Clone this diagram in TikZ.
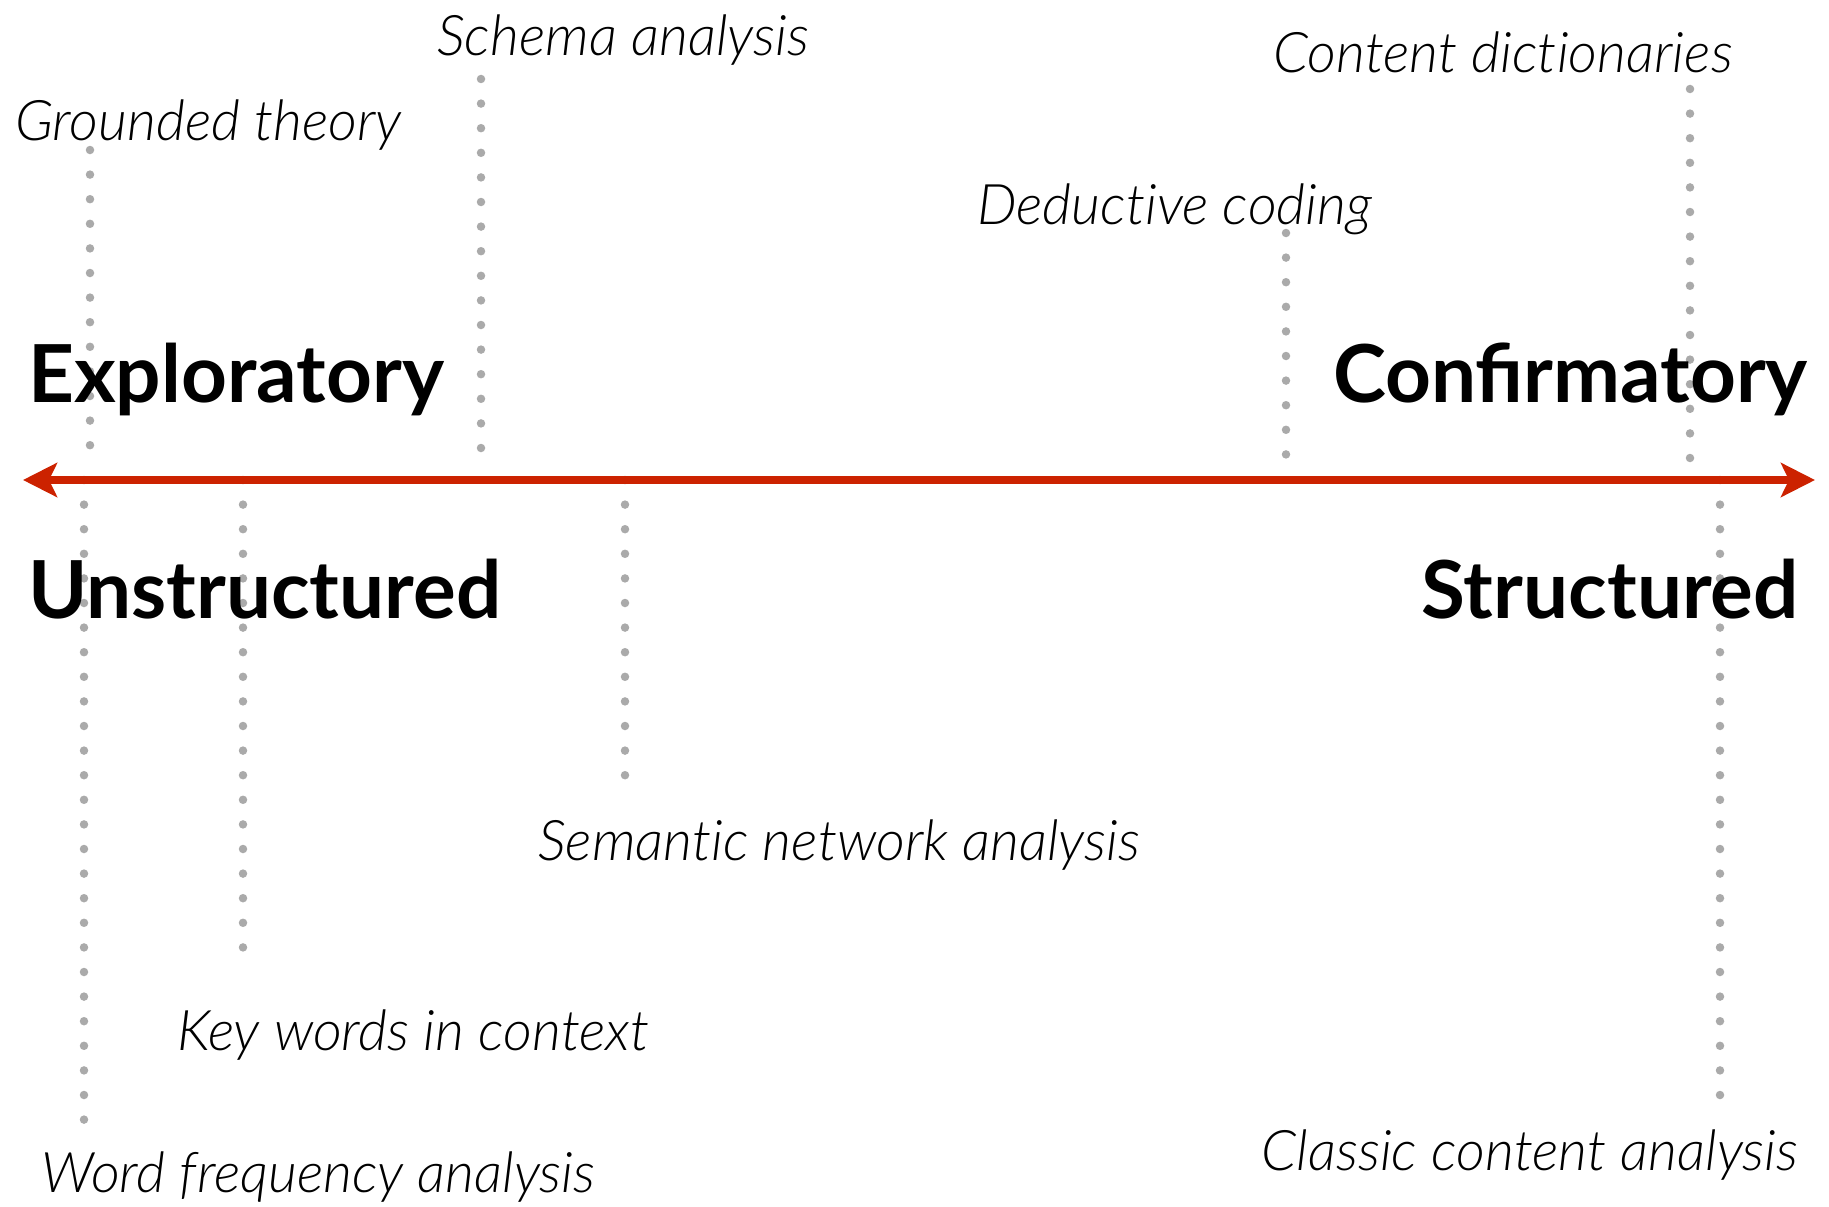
\documentclass[tikz,border=0pt]{standalone}
\usepackage{fontspec}
\setmainfont{Lato}
\newfontfamily\lightfont{Lato Light}[ItalicFont={Lato Light Italic},Ligatures={NoCommon,NoRare}]
\usetikzlibrary{arrows.meta}
\definecolor{axisred}{RGB}{204,34,0}
\definecolor{dotgray}{RGB}{170,170,170}
\tikzset{
  method/.style={anchor=base west, inner sep=0pt, font=\lightfont\itshape\fontsize{56}{60}\selectfont},
  pole/.style={anchor=base west, inner sep=0pt, font=\bfseries\fontsize{80}{84}\selectfont},
  dropline/.style={draw=dotgray, line width=8.5pt, line cap=round, dash pattern=on 0pt off 24.6pt},
  axis/.style={draw=axisred, line width=8pt, {Stealth[length=34pt,width=34pt,inset=8pt]}-{Stealth[length=34pt,width=34pt,inset=8pt]}}
}
\begin{document}
\begin{tikzpicture}[x=1pt,y=-1pt]
\useasboundingbox (0,0) rectangle (1829,1207);
% axis
\coordinate (L) at (23,480);
\coordinate (R) at (1815,480);
% drop line ends
\coordinate (gt1) at (90,150);   \coordinate (gt2) at (90,450);
\coordinate (sc1) at (481,79);   \coordinate (sc2) at (481,453);
\coordinate (dc1) at (1286,233); \coordinate (dc2) at (1286,458);
\coordinate (cd1) at (1690,89);  \coordinate (cd2) at (1690,463);
\coordinate (wf1) at (84,480);   \coordinate (wf2) at (84,1129);
\coordinate (kw1) at (243,480);  \coordinate (kw2) at (243,957);
\coordinate (sn1) at (625,480);  \coordinate (sn2) at (625,779);
\coordinate (cc1) at (1720,480); \coordinate (cc2) at (1720,1104);
\path[dropline] (gt1) -- (gt2);
\path[dropline] (sc1) -- (sc2);
\path[dropline] (dc1) -- (dc2);
\path[dropline] (cd1) -- (cd2);
\path[dropline] (wf1) -- (wf2);
\path[dropline] (kw1) -- (kw2);
\path[dropline] (sn1) -- (sn2);
\path[dropline] (cc1) -- (cc2);
\path[axis] (L) -- (R);
% labels
\node[method] (gt) at (15,140) {Grounded theory};
\node[method] (sc) at (437,56) {Schema analysis};
\node[method] (cd) at (1273,73) {Content dictionaries};
\node[method] (dc) at (977,224) {Deductive coding};
\node[method] (sn) at (538,860) {Semantic network analysis};
\node[method] (kw) at (177,1050) {Key words in context};
\node[method] (wf) at (41,1192) {Word frequency analysis};
\node[method] (cc) at (1261,1170) {Classic content analysis};
\node[pole] (ex) at (28,402) {Exploratory};
\node[pole, anchor=base east] (cf) at (1808,402) {Confirmatory};
\node[pole] (un) at (28,618) {Unstructured};
\node[pole, anchor=base east] (st) at (1799,618) {Structured};
\end{tikzpicture}
\end{document}
